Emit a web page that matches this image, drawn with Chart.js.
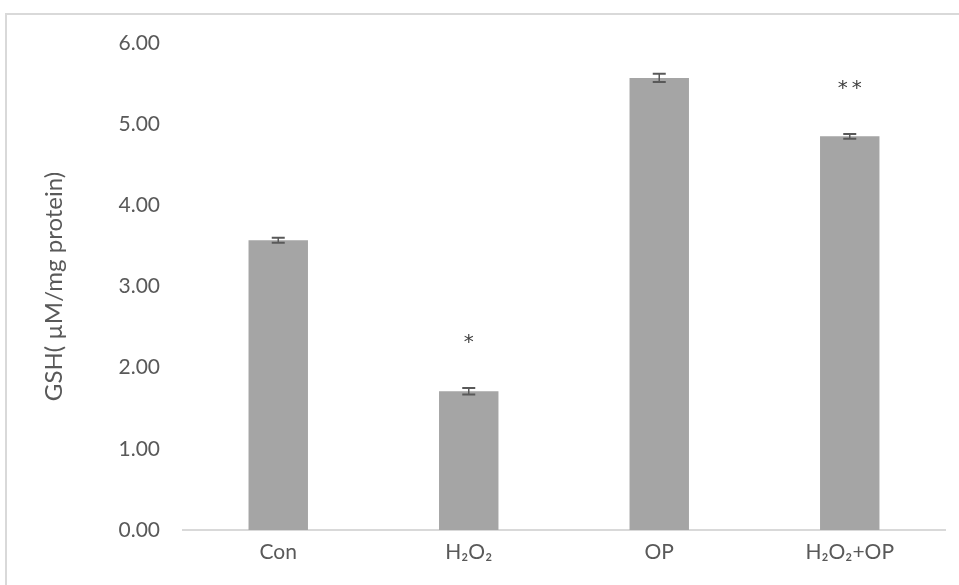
<!DOCTYPE html>
<html>
<head>
<meta charset="utf-8">
<script src="https://cdn.jsdelivr.net/npm/chart.js@4.4.1/dist/chart.umd.min.js"></script>
<style>
  html, body { margin: 0; padding: 0; background: #fff; width: 959px; height: 585px; overflow: hidden; }
  #frame { position: absolute; left: 5px; top: 13px; width: 1000px; height: 700px; border-top: 2px solid #D9D9D9; border-left: 2px solid #D9D9D9; box-sizing: border-box; }
  #wrap { position: absolute; left: 0; top: 0; width: 959px; height: 585px; }
</style>
</head>
<body>
<div id="frame"></div>
<div id="wrap"><canvas id="c" width="959" height="585"></canvas></div>
<script>
const categories = ["Con", "H\u2082O\u2082", "OP", "H\u2082O\u2082+OP"];
const gshValues = [3.57, 1.71, 5.57, 4.85];
const gshErrors = [0.03, 0.04, 0.05, 0.03];
const significance = ["", "*", "", "**"];
const yTicks = [0, 1, 2, 3, 4, 5, 6];
const yTitle = "GSH( \u00b5M/mg protein)";

const errorBarPlugin = {
  id: 'errorBars',
  afterDatasetsDraw(chart) {
    const ctx = chart.ctx;
    const meta = chart.getDatasetMeta(0);
    const y = chart.scales.y;
    ctx.save();
    meta.data.forEach((bar, i) => {
      const x = bar.x;
      const v = gshValues[i], e = gshErrors[i];
      const yTop = y.getPixelForValue(v + e);
      const yBot = y.getPixelForValue(v - e);
      ctx.strokeStyle = '#595959';
      ctx.lineWidth = 1.5;
      ctx.beginPath();
      ctx.moveTo(x, yTop); ctx.lineTo(x, yBot);
      ctx.stroke();
      ctx.lineWidth = 2;
      ctx.beginPath();
      ctx.moveTo(x - 6.5, yTop); ctx.lineTo(x + 6.5, yTop);
      ctx.moveTo(x - 6.5, yBot); ctx.lineTo(x + 6.5, yBot);
      ctx.stroke();
      if (significance[i]) {
        ctx.fillStyle = '#404040';
        ctx.font = '20px "DejaVu Sans"';
        ctx.textAlign = 'center';
        ctx.textBaseline = 'middle';
        ctx.fillText(significance[i].split('').join('\u2009'), x, yTop - 45);
      }
    });
    ctx.restore();
  }
};

new Chart(document.getElementById('c'), {
  type: 'bar',
  data: {
    labels: categories,
    datasets: [{
      data: gshValues,
      backgroundColor: '#A5A5A5',
      borderWidth: 0,
      categoryPercentage: 1,
      barPercentage: 0.312
    }]
  },
  options: {
    responsive: false,
    animation: false,
    devicePixelRatio: 1,
    layout: { padding: { left: 0, top: 43, right: 14, bottom: 0 } },
    plugins: { legend: { display: false }, tooltip: { enabled: false } },
    scales: {
      x: {
        grid: { display: false, drawTicks: false },
        border: { display: true, color: '#D9D9D9', width: 2 },
        ticks: { color: '#595959', font: { family: 'Lato', size: 21 }, padding: 10, maxRotation: 0 },
        afterFit(scale) { scale.height = 55; }
      },
      y: {
        min: 0, max: 6,
        afterBuildTicks(scale) { scale.ticks = yTicks.map(v => ({ value: v })); },
        grid: { display: false, drawTicks: false },
        border: { display: false },
        ticks: { color: '#595959', font: { family: 'Lato', size: 21 }, padding: 23,
                 callback: v => Number(v).toFixed(2) },
        title: { display: true, text: yTitle, color: '#595959',
                 font: { family: 'Lato', size: 24 }, padding: { top: 40, bottom: 0 } },
        afterFit(scale) { scale.width = 183; }
      }
    }
  },
  plugins: [errorBarPlugin]
});
</script>
</body>
</html>
